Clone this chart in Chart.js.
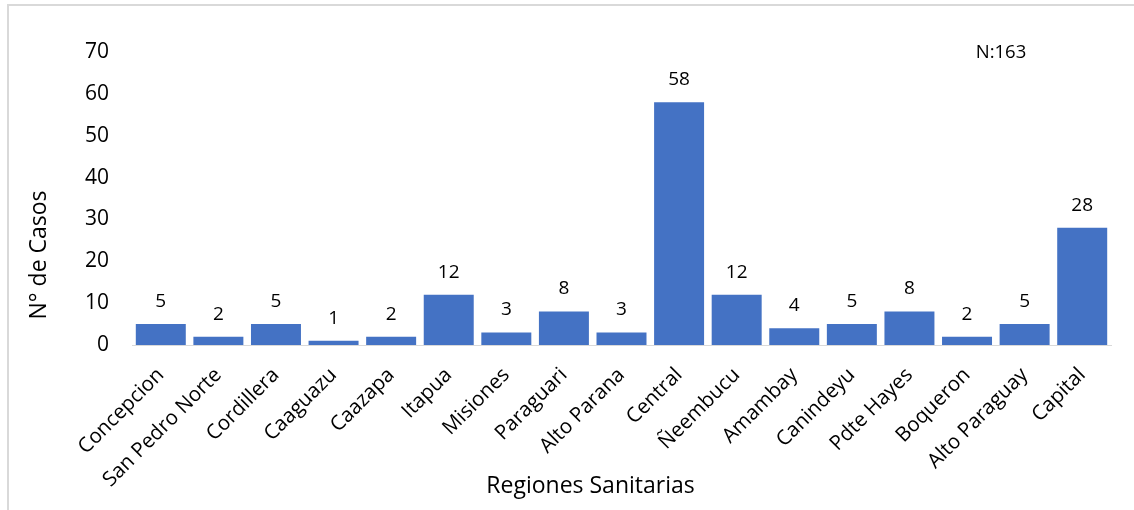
<!DOCTYPE html>
<html><head><meta charset="utf-8">
<style>html,body{margin:0;padding:0;background:#fff}#w{position:relative;width:1134px;height:510px}canvas{position:absolute;left:0;top:0}</style>
<script src="https://cdn.jsdelivr.net/npm/chart.js@4"></script></head><body>
<div id="w"><canvas id="c" width="1134" height="510"></canvas></div>
<script>
const categories=["Concepcion","San Pedro Norte","Cordillera","Caaguazu","Caazapa","Itapua","Misiones","Paraguari","Alto Parana","Central","Ñeembucu","Amambay","Canindeyu","Pdte Hayes","Boqueron","Alto Paraguay","Capital"];
const cases=[5,2,5,1,2,12,3,8,3,58,12,4,5,8,2,5,28];
const tickValues=[0,10,20,30,40,50,60,70];
const xTitle='Regiones Sanitarias', yTitle='N° de Casos', note='N:163';
const font="'Open Sans'";
const labelsPlugin={id:'labels',afterDatasetsDraw(ch){
 const c=ch.ctx;c.save();c.fillStyle='#000';c.textAlign='center';c.textBaseline='middle';c.font="19px "+font;
 ch.getDatasetMeta(0).data.forEach((b,i)=>c.fillText(cases[i],b.x,b.y-22.5));
 c.font="18.5px "+font;c.fillText(note,ch.scales.x.getPixelForValue(14.59),ch.scales.y.getPixelForValue(70)+1);
 c.font="23px "+font;c.fillText(xTitle,590.5,486);
 c.translate(39,255);c.rotate(-Math.PI/2);c.fillText(yTitle,0,0);
 c.restore();
},beforeDraw(ch){const c=ch.ctx;c.save();c.strokeStyle='#d9d9d9';c.lineWidth=2;c.beginPath();c.moveTo(8,510);c.lineTo(8,5);c.lineTo(1134,5);c.stroke();c.restore();}};
new Chart(document.getElementById('c'),{type:'bar',data:{labels:categories,datasets:[{data:cases,backgroundColor:'#4472c4',categoryPercentage:1,barPercentage:0.868}]},
options:{responsive:false,animation:false,layout:{padding:{left:0,right:23,top:52,bottom:0}},
plugins:{legend:{display:false},tooltip:{enabled:false}},
scales:{x:{grid:{display:false},border:{color:'#d9d9d9'},afterFit(a){a.height=165},ticks:{color:'#000',font:{family:font,size:20.5},minRotation:45,maxRotation:45,autoSkip:false,padding:10}},
y:{min:0,max:70,afterBuildTicks(a){a.ticks=tickValues.map(v=>({value:v}))},afterFit(a){a.width=132},grid:{display:false},border:{display:false},ticks:{color:'#000',font:{family:font,size:21},padding:15}}}},
plugins:[labelsPlugin]});
</script></body></html>
